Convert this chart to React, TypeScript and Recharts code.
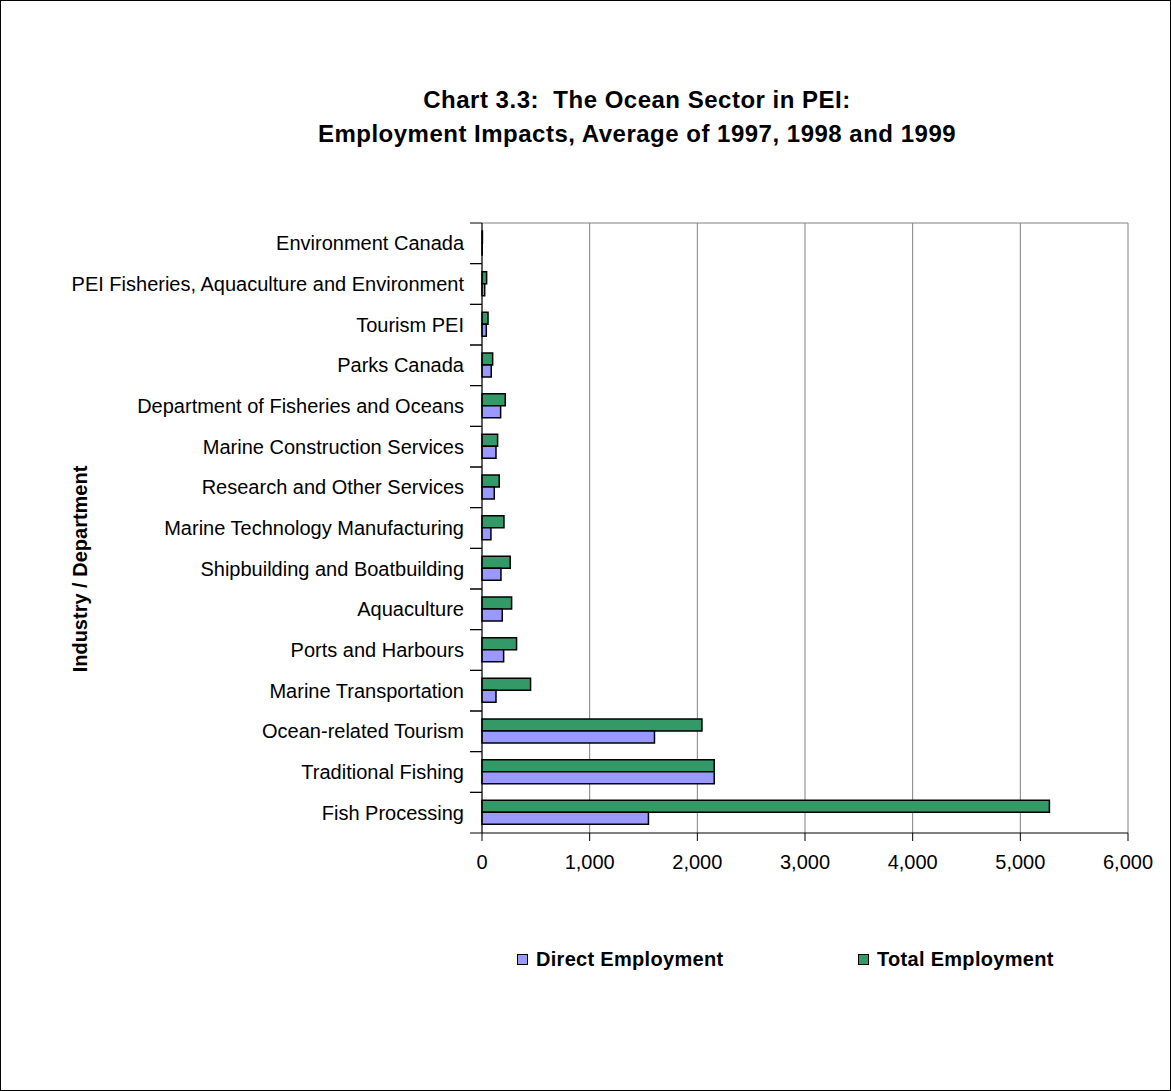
import { BarChart, Bar, XAxis, YAxis, CartesianGrid, Legend } from 'recharts';

// Categories listed top to bottom, as in the chart
const categories = [
  'Environment Canada',
  'PEI Fisheries, Aquaculture and Environment',
  'Tourism PEI',
  'Parks Canada',
  'Department of Fisheries and Oceans',
  'Marine Construction Services',
  'Research and Other Services',
  'Marine Technology Manufacturing',
  'Shipbuilding and Boatbuilding',
  'Aquaculture',
  'Ports and Harbours',
  'Marine Transportation',
  'Ocean-related Tourism',
  'Traditional Fishing',
  'Fish Processing',
];

const directEmployment = [2, 25, 40, 86, 173, 130, 114, 83, 176, 188, 201, 130, 1602, 2157, 1546];
const totalEmployment = [4, 43, 56, 99, 216, 145, 160, 204, 262, 275, 321, 451, 2043, 2157, 5270];

const xTicks = [0, 1000, 2000, 3000, 4000, 5000, 6000];

const DIRECT_COLOR = '#9999FF';
const TOTAL_COLOR = '#339966';
const FONT = '"Liberation Sans", Arial, sans-serif';

const data = categories.map((name, i) => ({
  name,
  direct: directEmployment[i],
  total: totalEmployment[i],
}));

// Category label plus Excel-style tick marks on the band boundaries
const CategoryTick = (props: any) => {
  const { x, y, payload } = props;
  const half = payload.offset ?? 20.3;
  return (
    <g>
      <text x={x - 18} y={y} textAnchor="end" dominantBaseline="central" fontSize={20} fontFamily={FONT} fill="#000">
        {payload.value}
      </text>
      <line x1={x - 12} x2={x} y1={y - half} y2={y - half} stroke="#000" />
      <line x1={x - 12} x2={x} y1={y + half} y2={y + half} stroke="#000" />
    </g>
  );
};

const LegendContent = () => {
  const items = [
    { label: 'Direct Employment', color: DIRECT_COLOR, left: 517 },
    { label: 'Total Employment', color: TOTAL_COLOR, left: 858 },
  ];
  return (
    <div style={{ position: 'relative', height: 30 }}>
      {items.map((it) => (
        <div
          key={it.label}
          style={{ position: 'absolute', left: it.left, top: 0, height: 30, display: 'flex', alignItems: 'center' }}
        >
          <span style={{ width: 9, height: 9, background: it.color, border: '1px solid #000', marginRight: 8 }} />
          <span style={{ fontFamily: FONT, fontWeight: 'bold', fontSize: 20, letterSpacing: 0.3, color: '#000' }}>
            {it.label}
          </span>
        </div>
      ))}
    </div>
  );
};

const AxisTitle = () => (
  <text
    x={80}
    y={569}
    transform="rotate(-90 80 569)"
    textAnchor="middle"
    dominantBaseline="central"
    fontSize={20}
    fontWeight="bold"
    fontFamily={FONT}
    fill="#000"
  >
    Industry / Department
  </text>
);

export default function App() {
  return (
    <div
      style={{
        position: 'absolute',
        left: 0,
        top: 0,
        width: 1171,
        height: 1091,
        border: '1px solid #000',
        boxSizing: 'border-box',
        background: '#fff',
      }}
    >
      <div
        style={{
          position: 'absolute',
          top: 82,
          left: 636,
          transform: 'translateX(-50%)',
          textAlign: 'center',
          fontFamily: FONT,
          fontWeight: 'bold',
          fontSize: 24,
          lineHeight: '34px',
          letterSpacing: 0.5,
          whiteSpace: 'pre',
          color: '#000',
        }}
      >
        {'Chart 3.3:  The Ocean Sector in PEI:\nEmployment Impacts, Average of 1997, 1998 and 1999'}
      </div>
      <div style={{ position: 'absolute', left: -1, top: -1 }}>
        <BarChart
          width={1171}
          height={1091}
          data={data}
          layout="vertical"
          barGap={0}
          barSize={12}
          margin={{ top: 223, right: 43, bottom: 218, left: 82 }}
        >
          <CartesianGrid
            stroke="#808080"
            vertical
            horizontal
            horizontalCoordinatesGenerator={({ offset }: any) => [offset.top]}
          />
          <XAxis
            type="number"
            domain={[0, 6000]}
            ticks={xTicks}
            interval={0}
            tickFormatter={(v: number) => v.toLocaleString('en-US')}
            axisLine={{ stroke: '#000' }}
            tickLine={{ stroke: '#000' }}
            tickSize={8}
            tickMargin={14}
            height={40}
            tick={{ fill: '#000', fontSize: 20, fontFamily: FONT }}
          />
          <YAxis
            type="category"
            dataKey="name"
            width={400}
            interval={0}
            axisLine={{ stroke: '#000' }}
            tickLine={false}
            tickSize={0}
            tickMargin={0}
            tick={<CategoryTick />}
            label={{ content: <AxisTitle /> }}
          />
          <Legend
            layout="horizontal"
            verticalAlign="middle"
            content={<LegendContent />}
            wrapperStyle={{ position: 'absolute', top: 944, left: 0, width: 1171 }}
          />
          <Bar dataKey="total" name="Total Employment" fill={TOTAL_COLOR} stroke="#000" strokeWidth={1.5} isAnimationActive={false} />
          <Bar dataKey="direct" name="Direct Employment" fill={DIRECT_COLOR} stroke="#000" strokeWidth={1.5} isAnimationActive={false} />
        </BarChart>
      </div>
    </div>
  );
}
